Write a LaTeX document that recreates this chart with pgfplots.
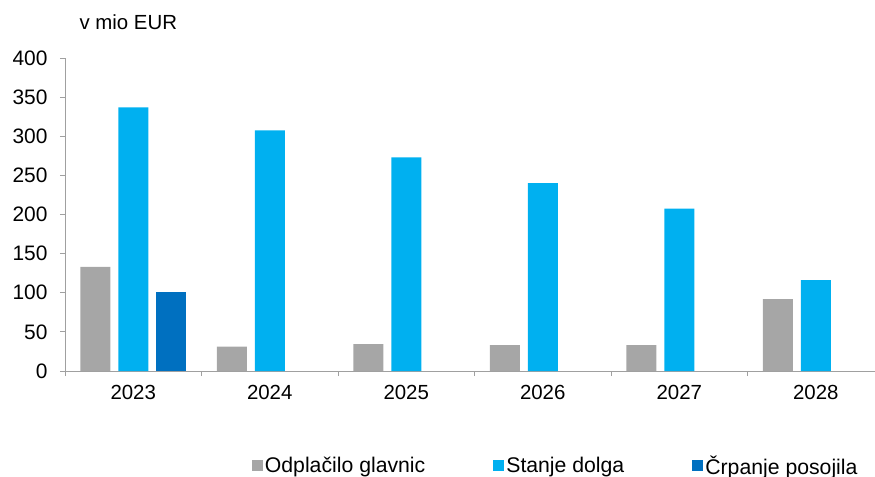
\documentclass[border=0pt]{standalone}
\usepackage{pgfplots}
\pgfplotsset{compat=1.18}
\usepackage{fontspec}
\setmainfont{Liberation Sans}
\definecolor{cgray}{HTML}{A6A6A6}
\definecolor{clight}{HTML}{00B0F0}
\definecolor{cdark}{HTML}{0070C0}
\definecolor{caxis}{HTML}{A0A0A0}
\begin{document}
\begin{tikzpicture}
\begin{axis}[
    at={(0,0)}, anchor=south west,
    scale only axis, width=819bp, height=313bp,
    font=\fontsize{20.5}{24}\selectfont,
    ybar=8bp, bar width=30bp,
    xmin=-0.5, xmax=5.5, ymin=0, ymax=400,
    axis x line*=bottom, axis y line*=left,
    axis line style={caxis, line width=1pt},
    xtick={0,...,5}, xticklabels={2023,2024,2025,2026,2027,2028},
    minor xtick={-0.5,0.5,...,5.5},
    major x tick style={draw=none},
    minor x tick style={caxis, line width=0.8pt},
    ytick={0,50,...,400},
    y tick style={caxis, line width=0.8pt},
    tick align=outside, major tick length=5bp, minor tick length=5bp,
    /pgf/number format/assume math mode=true,
    xticklabel style={yshift=-6bp},
    yticklabel style={xshift=-9bp, font=\fontsize{21}{24}\selectfont},
    legend columns=3,
    legend style={at={(0.228,-0.303)}, anchor=west, draw=none, inner xsep=0pt,
        font=\fontsize{21.3}{24}\selectfont,
        nodes={inner xsep=2bp},
        /tikz/every even column/.append style={column sep=66bp}},
    legend image code/.code={\fill[#1] (0bp,-5.5bp) rectangle (11bp,5.5bp);},
]
\addplot[fill=cgray, draw=none] coordinates {(0,133) (1,31) (2,34.5) (3,33) (4,33) (5,92)};
\addlegendentry{Odplačilo glavnic}
\addplot[fill=clight, draw=none] coordinates {(0,337) (1,307.5) (2,273) (3,240) (4,207.5) (5,116)};
\addlegendentry{Stanje dolga}
\addplot[fill=cdark, draw=none] coordinates {(0,101)};
\addlegendentry{Črpanje posojila}
\end{axis}
\node[anchor=base west, font=\fontsize{20.5}{24}\selectfont] at (11bp,341bp) {v mio EUR};
\pgfresetboundingbox
\useasboundingbox (-65bp,-106bp) rectangle (810bp,371bp);
\end{tikzpicture}
\end{document}
